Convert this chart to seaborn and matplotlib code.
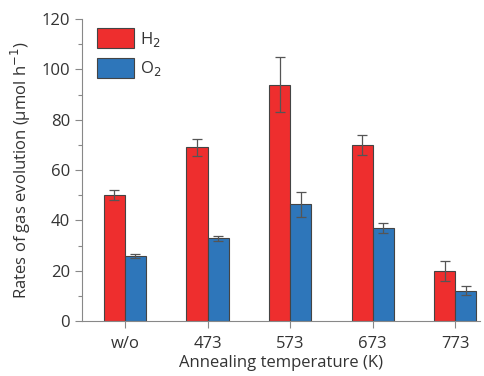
import numpy as np
import pandas as pd
import matplotlib
matplotlib.use("Agg")
import matplotlib.pyplot as plt
import seaborn as sns
from matplotlib.ticker import MultipleLocator

temps = ["w/o", "473", "573", "673", "773"]
h2_rate = [50, 69, 94, 70, 20]
h2_err = [2, 3.5, 11, 4, 4]
o2_rate = [26, 33, 46.5, 37, 12]
o2_err = [0.8, 1, 5, 2, 1.8]

gases = ["H$_2$", "O$_2$"]
colors = ["#ee2e2e", "#2e76ba"]

df = pd.DataFrame({
    "temp": temps * 2,
    "gas": [gases[0]] * len(temps) + [gases[1]] * len(temps),
    "rate": h2_rate + o2_rate,
    "err": h2_err + o2_err,
})

sns.set_style("white")
plt.rcParams["font.family"] = ["Open Sans", "DejaVu Sans"]
grey = "#888888"
txt = "#333333"

fig = plt.figure(figsize=(4.85, 3.76), dpi=100)
ax = fig.add_axes([0.169, 0.146, 0.821, 0.803])

sns.barplot(data=df, x="temp", y="rate", hue="gas", palette=colors,
            saturation=1, width=0.51, errorbar=None, edgecolor="#444444",
            linewidth=0.8, ax=ax)

# error bars placed on the bar centres seaborn drew
bars = [p for p in ax.patches if p.get_height() > 0][:len(df)]
for p, (_, row) in zip(bars, df.iterrows()):
    ax.errorbar(p.get_x() + p.get_width() / 2, row["rate"], yerr=row["err"],
                fmt="none", ecolor="#555555", elinewidth=0.9, capsize=3.5,
                capthick=0.9)

ax.set_ylim(0, 120)
ax.set_xlim(-0.52, 4.3)
ax.yaxis.set_major_locator(MultipleLocator(20))
ax.yaxis.set_minor_locator(MultipleLocator(10))
ax.tick_params(axis="both", which="major", direction="out", length=5,
               width=0.8, color=grey, labelsize=12, labelcolor=txt,
               bottom=True, left=True)
ax.tick_params(axis="y", which="minor", direction="out", length=3,
               width=0.8, color=grey, left=True)
ax.tick_params(axis="x", pad=6)
for s in ["top", "right"]:
    ax.spines[s].set_visible(False)
for s in ["left", "bottom"]:
    ax.spines[s].set_color(grey)
    ax.spines[s].set_linewidth(0.8)

ax.set_xlabel("Annealing temperature (K)", fontsize=12, color=txt, labelpad=2)
ax.set_ylabel("Rates of gas evolution (\u00b5mol h$^{-1}$)", fontsize=12,
              color=txt, labelpad=6)

leg = ax.legend(loc="upper left", frameon=False, fontsize=12,
                bbox_to_anchor=(0.0, 1.02), handlelength=2.2,
                handleheight=1.45, labelspacing=0.55, handletextpad=0.4)
for t in leg.get_texts():
    t.set_color(txt)

fig.savefig("out.png", dpi=100)
